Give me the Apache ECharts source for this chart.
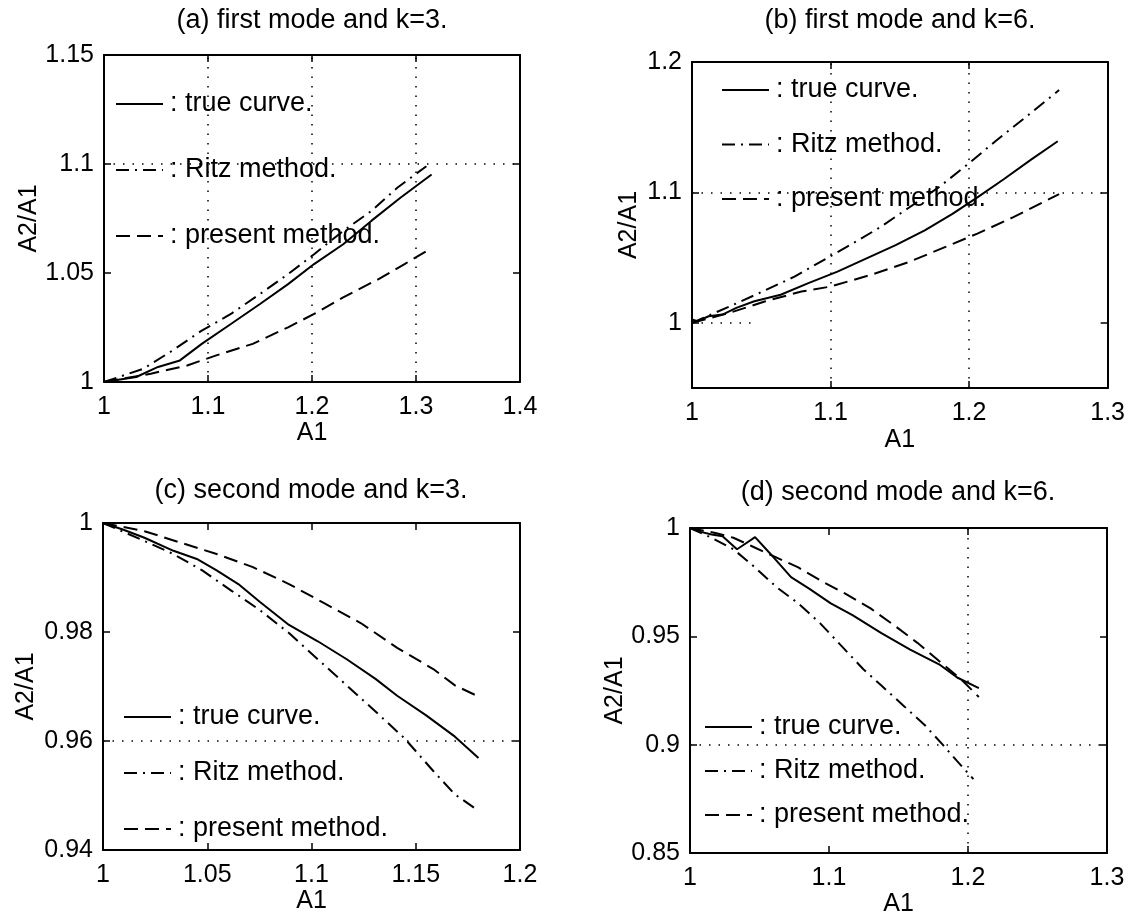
<!DOCTYPE html>
<html>
<head>
<meta charset="utf-8">
<script src="https://cdn.jsdelivr.net/npm/echarts@6/dist/echarts.min.js"></script>
<style>html,body{margin:0;padding:0;background:#fff}#c{width:1128px;height:919px}</style>
</head>
<body>
<div id="c"></div>
<script>
// ---- data ----
const seriesNames = ['true curve', 'Ritz method', 'present method'];
const panelTitles = ['(a) first mode and k=3.', '(b) first mode and k=6.', '(c) second mode and k=3.', '(d) second mode and k=6.'];

// (a) first mode, k=3
const aTrueX = [1, 1.031, 1.052, 1.073, 1.094, 1.122, 1.150, 1.177, 1.202, 1.230, 1.257, 1.285, 1.315];
const aTrueY = [1, 1.0023, 1.0069, 1.0099, 1.0175, 1.0266, 1.0358, 1.0449, 1.0541, 1.0632, 1.0739, 1.0845, 1.0952];
const aRitzX = [1, 1.038, 1.066, 1.094, 1.122, 1.150, 1.177, 1.202, 1.230, 1.257, 1.282, 1.310];
const aRitzY = [1, 1.0061, 1.0145, 1.0236, 1.0312, 1.0404, 1.0495, 1.0586, 1.0693, 1.0784, 1.0891, 1.0990];
const aPresX = [1, 1.045, 1.080, 1.108, 1.143, 1.177, 1.202, 1.230, 1.264, 1.289, 1.313];
const aPresY = [1, 1.0038, 1.0076, 1.0122, 1.0175, 1.0251, 1.0312, 1.0388, 1.0472, 1.0541, 1.0609];

// (b) first mode, k=6
const bTrueX = [1, 1.004, 1.012, 1.022, 1.032, 1.045, 1.064, 1.084, 1.105, 1.126, 1.147, 1.168, 1.188, 1.206, 1.225, 1.245, 1.264];
const bTrueY = [1.0025, 1.0013, 1.005, 1.0063, 1.0114, 1.0165, 1.0215, 1.0304, 1.0392, 1.0494, 1.0595, 1.0709, 1.0835, 1.0962, 1.1101, 1.1253, 1.1392];
const bRitzX = [1, 1.030, 1.051, 1.074, 1.095, 1.116, 1.136, 1.157, 1.178, 1.199, 1.219, 1.240, 1.265];
const bRitzY = [1, 1.0139, 1.024, 1.0354, 1.0481, 1.0608, 1.0734, 1.0886, 1.1038, 1.1215, 1.1392, 1.157, 1.1785];
const bPresX = [1, 1.027, 1.053, 1.079, 1.100, 1.129, 1.157, 1.183, 1.206, 1.232, 1.265];
const bPresY = [1, 1.0076, 1.0165, 1.024, 1.0278, 1.0367, 1.0468, 1.0582, 1.0684, 1.081, 1.0987];

// (c) second mode, k=3
const cTrueX = [1, 1.0095, 1.0199, 1.0338, 1.045, 1.0545, 1.0649, 1.0753, 1.0892, 1.103, 1.1169, 1.1307, 1.1411, 1.155, 1.1688, 1.1801];
const cTrueY = [1, 0.9988, 0.9973, 0.9949, 0.9934, 0.9913, 0.9888, 0.9855, 0.9813, 0.9783, 0.975, 0.9714, 0.9683, 0.9647, 0.9608, 0.9569];
const cRitzX = [1, 1.0199, 1.0338, 1.0476, 1.0615, 1.0753, 1.0892, 1.103, 1.1169, 1.1307, 1.1446, 1.1584, 1.1688, 1.1801];
const cRitzY = [1, 0.9967, 0.9943, 0.9913, 0.9876, 0.984, 0.9798, 0.975, 0.9702, 0.9654, 0.9605, 0.9545, 0.9502, 0.9472];
const cPresX = [1, 1.0199, 1.0372, 1.0545, 1.0719, 1.0892, 1.1065, 1.1238, 1.1411, 1.1584, 1.1688, 1.181];
const cPresY = [1, 0.9985, 0.9964, 0.9943, 0.9919, 0.9888, 0.9852, 0.9816, 0.9771, 0.9732, 0.9702, 0.968];

// (d) second mode, k=6
const dTrueX = [1, 1.0078, 1.0156, 1.0234, 1.0338, 1.039, 1.0468, 1.0571, 1.0727, 1.0857, 1.1013, 1.1169, 1.1377, 1.1584, 1.1792, 1.1922, 1.2078];
const dTrueY = [1, 0.9982, 0.997, 0.9962, 0.9902, 0.9924, 0.9958, 0.9886, 0.9773, 0.972, 0.9652, 0.9598, 0.9515, 0.9439, 0.9371, 0.931, 0.9261];
const dRitzX = [1, 1.0156, 1.0312, 1.0468, 1.0623, 1.0779, 1.0935, 1.1091, 1.1247, 1.1377, 1.1532, 1.1688, 1.1818, 1.1922, 1.2039];
const dRitzY = [1, 0.9955, 0.9902, 0.9818, 0.9727, 0.9652, 0.9561, 0.9455, 0.9348, 0.9273, 0.9182, 0.9091, 0.9, 0.8924, 0.8841];
const dPresX = [1, 1.0182, 1.0312, 1.0442, 1.0597, 1.0779, 1.0961, 1.1117, 1.1299, 1.1481, 1.1636, 1.1792, 1.1948, 1.2078];
const dPresY = [1, 0.9977, 0.9955, 0.9917, 0.9871, 0.9818, 0.975, 0.9697, 0.9629, 0.9545, 0.947, 0.9386, 0.9303, 0.922];

// axis ranges and tick labels
const xRanges = [[1, 1.4], [1, 1.3], [1, 1.2], [1, 1.3]];
const xTicks = [[1, 1.1, 1.2, 1.3, 1.4], [1, 1.1, 1.2, 1.3], [1, 1.05, 1.1, 1.15, 1.2], [1, 1.1, 1.2, 1.3]];
const yRanges = [[1, 1.15], [0.95, 1.2], [0.94, 1], [0.85, 1]];
const yTicks = [[1, 1.05, 1.1, 1.15], [1, 1.1, 1.2], [0.94, 0.96, 0.98, 1], [0.85, 0.9, 0.95, 1]];
// dotted grid lines visible in the reference
const gridXLines = [[1.1, 1.2, 1.3], [1.1, 1.2], [], [1.2]];
const gridYLines = [[1.1], [1.1], [0.96], [0.9]];
// short partial dotted grid segment at A2/A1 = 1 in panel (b): [x0, x1, y]
const bPartialGrid = [1, 1.045, 1];

// ---- layout ----
const FONT = '"Liberation Sans", Arial, Helvetica, sans-serif';
const grids = [
  {left: 104, top: 55, width: 416, height: 327},
  {left: 692, top: 62, width: 417, height: 326},
  {left: 103, top: 523, width: 417, height: 327},
  {left: 690, top: 528, width: 417, height: 325}
];
const titlePos = [[312, 7], [900, 7], [311, 477], [898, 479]];
const xNameGap = [38, 40, 38, 36];
const yNameGap = [58, 50, 64, 62];
const legendPos = [
  {left: 115, top: 90, gap: 38},
  {left: 721, top: 76, gap: 26.5},
  {left: 123, top: 703, gap: 28},
  {left: 704, top: 713, gap: 16}
];
const styles = [
  {type: 'solid', width: 2},
  {type: [13, 6, 2, 6], width: 2},
  {type: [14, 7], width: 2}
];

const panels = [
  [[aTrueX, aTrueY], [aRitzX, aRitzY], [aPresX, aPresY]],
  [[bTrueX, bTrueY], [bRitzX, bRitzY], [bPresX, bPresY]],
  [[cTrueX, cTrueY], [cRitzX, cRitzY], [cPresX, cPresY]],
  [[dTrueX, dTrueY], [dRitzX, dRitzY], [dPresX, dPresY]]
];

const zip = (xs, ys) => xs.map((x, i) => [x, ys[i]]);
const axisLine = {show: true, onZero: false, lineStyle: {color: '#000', width: 2}};
const tick = vals => ({show: true, inside: true, length: 7, lineStyle: {color: '#000', width: 1.5}, customValues: vals});
const fmt = v => String(+(+v).toFixed(4));

const option = {
  animation: false,
  backgroundColor: '#fff',
  textStyle: {fontFamily: FONT, color: '#000'},
  title: [], grid: [], xAxis: [], yAxis: [], legend: [], series: []
};

panels.forEach((p, i) => {
  option.title.push({
    text: panelTitles[i], left: titlePos[i][0], top: titlePos[i][1], textAlign: 'center', padding: 0,
    textStyle: {fontFamily: FONT, fontSize: 27, fontWeight: 'normal', color: '#000', lineHeight: 27}
  });
  option.grid.push(Object.assign({containLabel: false, show: false}, grids[i]));
  option.xAxis.push({
    type: 'value', gridIndex: i, position: 'bottom', min: xRanges[i][0], max: xRanges[i][1],
    name: 'A1', nameLocation: 'middle', nameGap: xNameGap[i],
    nameTextStyle: {fontFamily: FONT, fontSize: 25, color: '#000'},
    axisLine: axisLine, axisTick: tick(xTicks[i]),
    axisLabel: {show: true, margin: 13, fontFamily: FONT, fontSize: 25, color: '#000', customValues: xTicks[i], formatter: fmt},
    splitLine: {show: false}
  });
  option.xAxis.push({
    type: 'value', gridIndex: i, position: 'top', min: xRanges[i][0], max: xRanges[i][1],
    axisLine: axisLine, axisTick: tick(xTicks[i]),
    axisLabel: {show: false}, splitLine: {show: false}
  });
  option.yAxis.push({
    type: 'value', gridIndex: i, position: 'left', min: yRanges[i][0], max: yRanges[i][1],
    name: 'A2/A1', nameLocation: 'middle', nameGap: yNameGap[i],
    nameTextStyle: {fontFamily: FONT, fontSize: 25, color: '#000'},
    axisLine: axisLine, axisTick: tick(yTicks[i]),
    axisLabel: {show: true, margin: 10, fontFamily: FONT, fontSize: 25, color: '#000', customValues: yTicks[i], formatter: fmt},
    splitLine: {show: false}
  });
  option.yAxis.push({
    type: 'value', gridIndex: i, position: 'right', min: yRanges[i][0], max: yRanges[i][1],
    axisLine: axisLine, axisTick: tick(yTicks[i]),
    axisLabel: {show: false}, splitLine: {show: false}
  });
  const lp = legendPos[i];
  option.legend.push({
    orient: 'vertical', left: lp.left, top: lp.top, itemGap: lp.gap, padding: 0,
    itemWidth: 47, itemHeight: 14, selectedMode: false, data: seriesNames,
    itemStyle: {opacity: 0, borderWidth: 0},
    formatter: n => ': ' + n + '.',
    textStyle: {fontFamily: FONT, fontSize: 27, lineHeight: 28, color: '#000', padding: [0, 0, 0, 2]}
  });
  p.forEach((xy, k) => {
    const s = {
      type: 'line', name: seriesNames[k], xAxisIndex: 2 * i, yAxisIndex: 2 * i,
      data: zip(xy[0], xy[1]), symbol: 'none', smooth: false,
      lineStyle: {color: '#000', width: styles[k].width, type: styles[k].type},
      itemStyle: {color: '#000'}, z: 3
    };
    if (k === 0) {
      const ml = gridXLines[i].map(v => ({xAxis: v})).concat(gridYLines[i].map(v => ({yAxis: v})));
      if (i === 1) ml.push([{coord: [bPartialGrid[0], bPartialGrid[2]]}, {coord: [bPartialGrid[1], bPartialGrid[2]]}]);
      s.markLine = {
        silent: true, symbol: ['none', 'none'], label: {show: false}, animation: false,
        lineStyle: {color: '#000', width: 1.5, type: [1.5, 8]},
        emphasis: {disabled: true},
        data: ml
      };
    }
    option.series.push(s);
  });
});

const chart = echarts.init(document.getElementById('c'), null, {renderer: 'canvas'});
chart.setOption(option);
</script>
</body>
</html>
